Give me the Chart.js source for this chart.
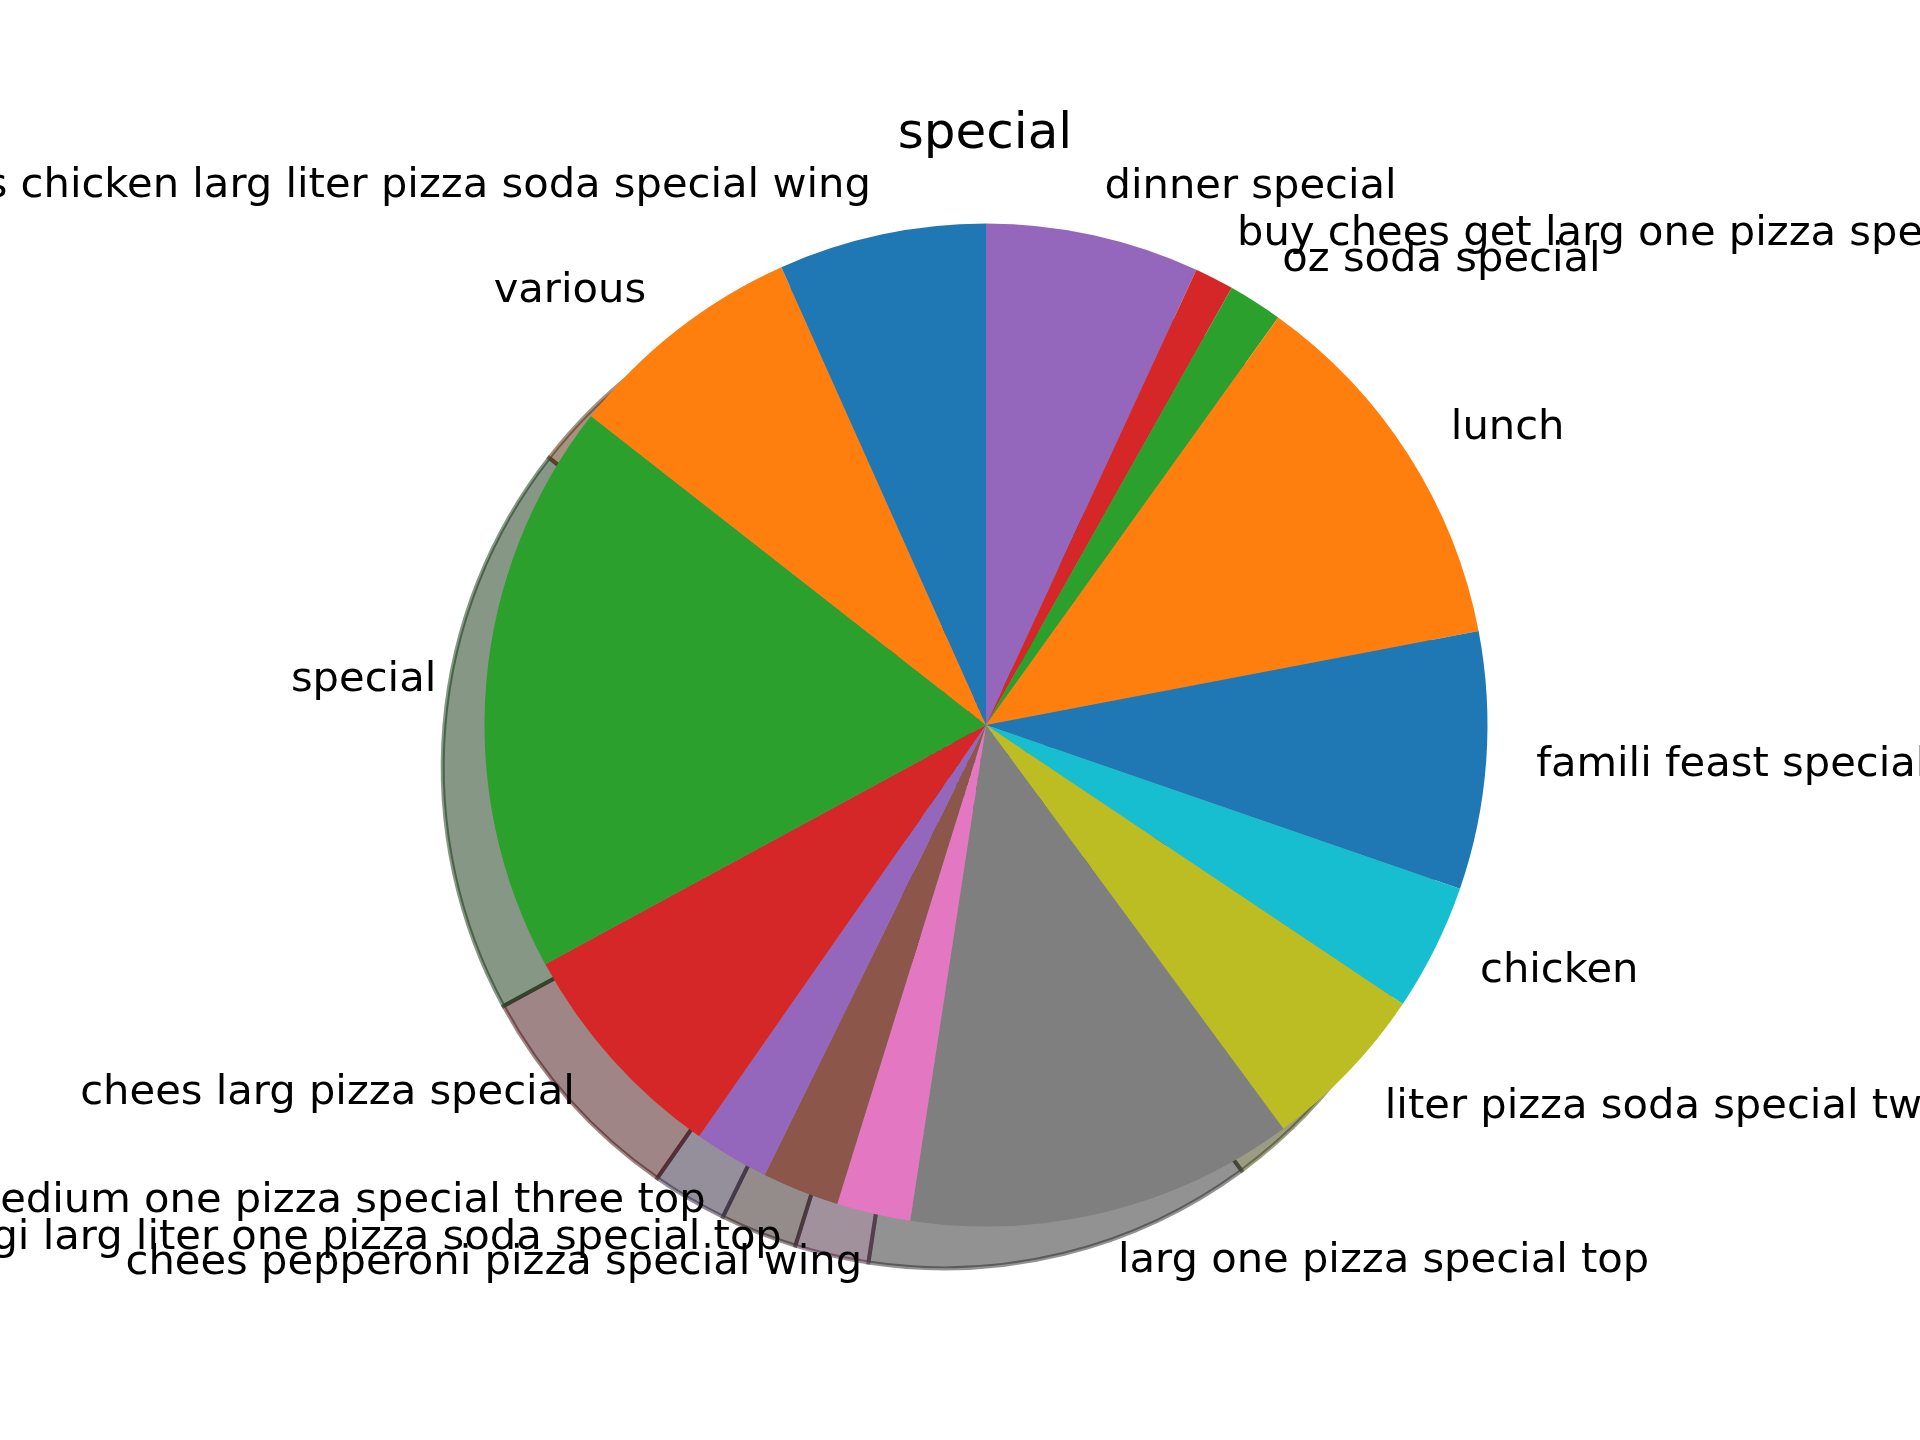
<!DOCTYPE html>
<html>
<head>
<meta charset="utf-8">
<script src="https://cdn.jsdelivr.net/npm/chart.js@4/dist/chart.umd.min.js"></script>
<style>
html,body{margin:0;padding:0;background:#ffffff;overflow:hidden}
canvas{display:block}
</style>
</head>
<body>
<canvas id="c" width="1920" height="1440"></canvas>
<script>
// ---- data (listed counter-clockwise from 12 o'clock, as in the reference) ----
const chartTitle = 'special';
const categories = [
  'chees chicken larg liter pizza soda special wing',
  'various',
  'special',
  'chees larg pizza special',
  'medium one pizza special three top',
  'hoagi larg liter one pizza soda special top',
  'chees pepperoni pizza special wing',
  'larg one pizza special top',
  'liter pizza soda special two',
  'chicken',
  'famili feast special',
  'lunch',
  'oz soda special',
  'buy chees get larg one pizza special',
  'dinner special'
];
const shares = [6.69, 7.75, 18.48, 7.39, 2.42, 2.48, 2.38, 12.52, 5.51, 4.09, 8.30, 12.10, 1.75, 1.26, 6.89];
const sliceColors = [
  '#1f77b4', '#ff7f0e', '#2ca02c', '#d62728', '#9467bd',
  '#8c564b', '#e377c2', '#7f7f7f', '#bcbd22', '#17becf',
  '#1f77b4', '#ff7f0e', '#2ca02c', '#d62728', '#9467bd'
];

// ---- styling ----
const FONT = '"DejaVu Sans", "Liberation Sans", sans-serif';
const LABEL_PX = 41.67;
const TITLE_PX = 50;

function shadowColor(hex) {
  const n = parseInt(hex.slice(1), 16);
  const r = Math.round(((n >> 16) & 255) * 0.3);
  const g = Math.round(((n >> 8) & 255) * 0.3);
  const b = Math.round((n & 255) * 0.3);
  return 'rgba(' + r + ',' + g + ',' + b + ',0.5)';
}

// Chart.js draws clockwise, the reference runs counter-clockwise: reverse the order.
const cjsLabels = categories.slice().reverse();
const cjsData = shares.slice().reverse();
const cjsColors = sliceColors.slice().reverse();

const shadowPlugin = {
  id: 'pieShadow',
  beforeDatasetsDraw(chart) {
    const c = chart.ctx;
    const meta = chart.getDatasetMeta(0);
    c.save();
    meta.data.forEach((arc, i) => {
      const p = arc.getProps(['x', 'y', 'startAngle', 'endAngle', 'outerRadius'], true);
      const off = 0.02 * 300 / 72 * p.outerRadius;
      const cx = p.x - off, cy = p.y + off;
      const col = shadowColor(cjsColors[i]);
      c.beginPath();
      c.moveTo(cx, cy);
      c.arc(cx, cy, p.outerRadius, p.startAngle, p.endAngle);
      c.closePath();
      c.fillStyle = col;
      c.fill();
      c.lineWidth = 4;
      c.lineJoin = 'miter';
      c.strokeStyle = col;
      c.stroke();
    });
    c.restore();
  }
};

const labelPlugin = {
  id: 'outerLabels',
  afterDatasetsDraw(chart) {
    const c = chart.ctx;
    const meta = chart.getDatasetMeta(0);
    c.save();
    c.fillStyle = '#000000';
    c.font = LABEL_PX + 'px ' + FONT;
    c.textBaseline = 'alphabetic';
    meta.data.forEach((arc, i) => {
      const p = arc.getProps(['x', 'y', 'startAngle', 'endAngle', 'outerRadius'], true);
      const mid = (p.startAngle + p.endAngle) / 2;
      const tx = p.x + 1.1 * p.outerRadius * Math.cos(mid);
      const ty = p.y + 1.1 * p.outerRadius * Math.sin(mid);
      c.textAlign = Math.cos(mid) > 0 ? 'left' : 'right';
      c.fillText(cjsLabels[i], tx, ty + 0.276 * LABEL_PX);
    });
    // title
    c.font = TITLE_PX + 'px ' + FONT;
    c.textAlign = 'center';
    c.fillText(chartTitle, 985, 148);
    c.restore();
  }
};

new Chart(document.getElementById('c'), {
  type: 'pie',
  data: {
    labels: cjsLabels,
    datasets: [{
      data: cjsData,
      backgroundColor: cjsColors,
      borderWidth: 0,
      hoverOffset: 0
    }]
  },
  options: {
    responsive: false,
    maintainAspectRatio: false,
    devicePixelRatio: 1,
    animation: false,
    events: [],
    layout: { padding: { left: 484.5, right: 432.5, top: 223.5, bottom: 213.5 } },
    plugins: {
      legend: { display: false },
      title: { display: false },
      tooltip: { enabled: false }
    }
  },
  plugins: [shadowPlugin, labelPlugin]
});
</script>
</body>
</html>
